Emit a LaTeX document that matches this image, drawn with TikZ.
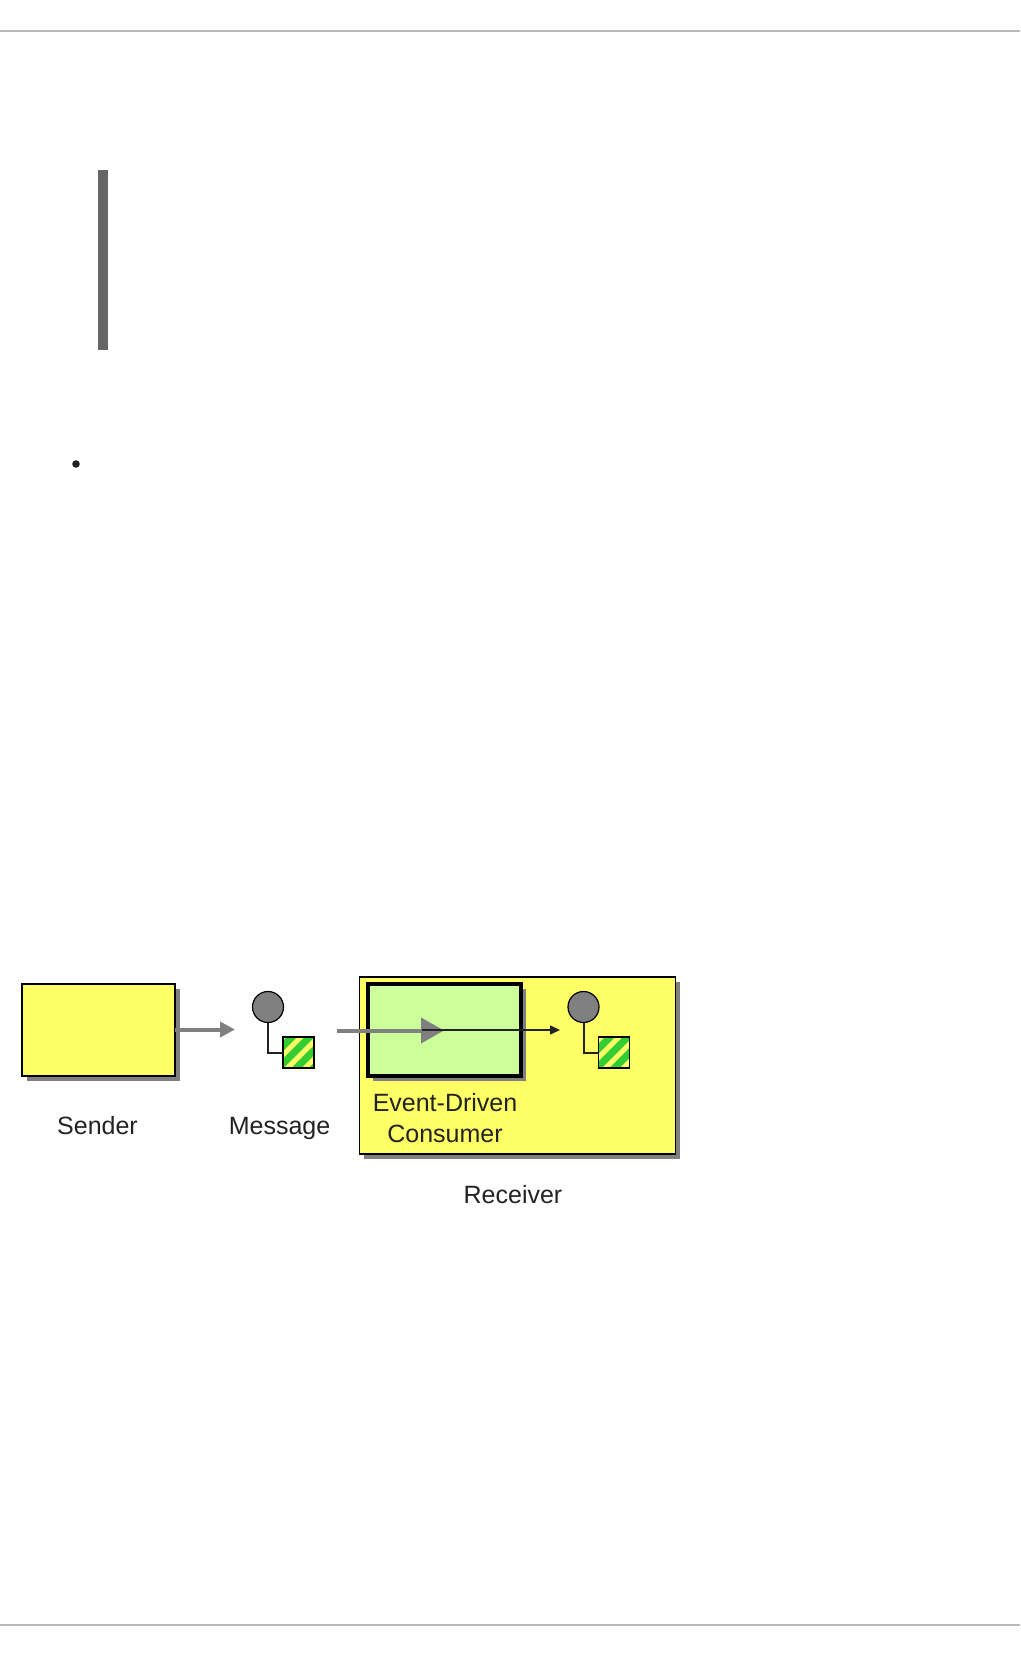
\documentclass[tikz,border=0pt]{standalone}
\usepackage{fontspec}
\setmainfont{Liberation Sans}
\usetikzlibrary{arrows.meta,shadows,patterns.meta}
\definecolor{boxyellow}{HTML}{FFFF66}
\definecolor{boxgreen}{HTML}{CCFF99}
\definecolor{stripegreen}{HTML}{33CC33}
\definecolor{stripeyellow}{HTML}{FFFF66}
\definecolor{flowgray}{HTML}{808080}
\definecolor{inkgray}{HTML}{222222}
\tikzset{
    box/.style={draw=black, rectangle, inner sep=0pt, outer sep=0pt, line width=1.5pt,
        drop shadow={shadow xshift=4.5pt, shadow yshift=-4.5pt, fill=flowgray, opacity=1}},
    dot/.style={draw=black, fill=flowgray, circle, inner sep=0pt, outer sep=0pt, minimum size=31pt, line width=1.2pt},
    data/.style={draw=black, rectangle, inner sep=0pt, outer sep=0pt, minimum size=31pt, line width=1.5pt,
        preaction={fill=stripegreen}, pattern={Lines[angle=45,distance=12.5pt,line width=5pt]}, pattern color=stripeyellow},
    label/.style={inkgray, inner sep=0pt, align=center, anchor=base},
    flow/.style={flowgray, line width=4pt, -{Triangle[length=15pt,width=15pt]}},
}
\begin{document}
\begin{tikzpicture}[x=1pt, y=-1pt, font=\fontsize{25}{30}\selectfont]
    \useasboundingbox (0,0) rectangle (1020,1656);
    % page furniture
    \draw[line width=2pt, color=black!27] (0,31) -- (1020,31);
    \draw[line width=2pt, color=black!27] (0,1625) -- (1020,1625);
    \fill[black!60] (98,170) rectangle (108,350);
    \fill[inkgray] (76,464) circle (3.8);
    % boxes
    \node[box, fill=boxyellow, minimum width=153pt, minimum height=92pt] (sender) at (98.5,1030) {};
    \node[box, fill=boxyellow, minimum width=316pt, minimum height=177pt] (receiver) at (517.5,1065.5) {};
    \node[box, fill=boxgreen, line width=3.5pt, minimum width=153pt, minimum height=92pt] (consumer) at (444.5,1030) {};
    % messages
    \node[dot] (msgdot) at (268,1007) {};
    \node[data] (msgdata) at (298.5,1052.5) {};
    \draw[line width=2pt, inkgray] (msgdot.south) |- (msgdata.west);
    \node[dot] (outdot) at (583.5,1007) {};
    \node[data] (outdata) at (614,1052.5) {};
    \draw[line width=2pt, inkgray] (outdot.south) |- (outdata.west);
    % flow
    \coordinate (sendend) at (235,1029.5);
    \coordinate (recvstart) at (337,1030.5);
    \coordinate (recvend) at (444,1030.5);
    \coordinate (tapstart) at (422,1030);
    \coordinate (tapend) at (560,1030);
    \draw[flow] (sender.east |- sendend) -- (sendend);
    \draw[flow, -{Triangle[length=23pt,width=25pt]}] (recvstart) -- (recvend);
    \draw[line width=1.5pt, inkgray, -{Triangle[length=10pt,width=9pt]}] (tapstart) -- (tapend);
    % labels
    \node[label] (senderlabel) at (97.5,1134) {Sender};
    \node[label] (msglabel) at (279.5,1134) {Message};
    \node[label] (eventlabel) at (445,1111) {Event-Driven};
    \node[label] (consumerlabel) at (445,1142) {Consumer};
    \node[label] (receiverlabel) at (513,1203) {Receiver};
\end{tikzpicture}
\end{document}
